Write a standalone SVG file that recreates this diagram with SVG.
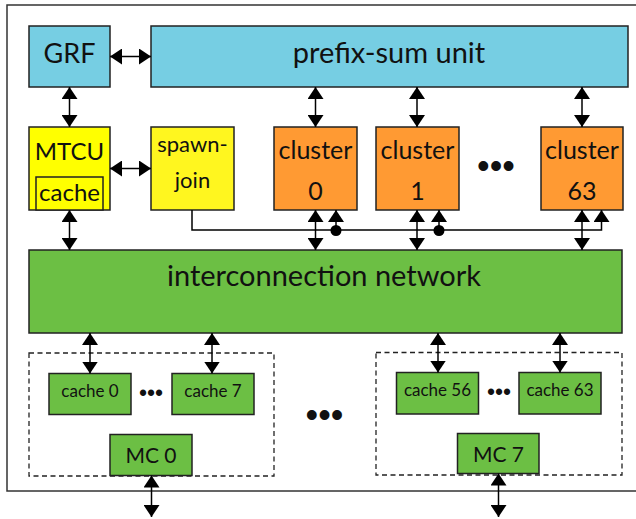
<svg xmlns="http://www.w3.org/2000/svg" width="636" height="519" viewBox="0 0 636 519">
<defs>
<marker id="ah" viewBox="0 0 12 16" markerWidth="12" markerHeight="16" refX="12" refY="8" markerUnits="userSpaceOnUse" orient="auto-start-reverse">
<path d="M0,0 L12,8 L0,16 z" fill="#000"/>
</marker>
<style>
.box{stroke:#222;stroke-width:1.5}
.blue{fill:#76CEE3}
.yel{fill:#FFFF00}
.yel2{fill:#FFF61F}
.org{fill:#FF9A33}
.grn{fill:#6CBF44}
.t{font-family:Lato,"Liberation Sans",sans-serif;fill:#111;text-anchor:middle}
.d{font-family:"Liberation Sans",sans-serif;fill:#111;text-anchor:middle}
.c{stroke:#000;stroke-width:1.5;fill:none}
.bi{marker-start:url(#ah);marker-end:url(#ah)}
.dash{fill:none;stroke:#222;stroke-width:1.3;stroke-dasharray:5,3.5}
</style>
</defs>
<rect x="7" y="5" width="640" height="486" fill="#fff" stroke="#333" stroke-width="1.5"/>

<g id="grf"><rect class="box blue" x="29" y="26" width="81" height="61"/><text class="t" x="69.5" y="63" font-size="27">GRF</text></g>
<g id="prefix"><rect class="box blue" x="151" y="26" width="477" height="61"/><text class="t" x="389" y="63" font-size="29">prefix-sum unit</text></g>
<g id="mtcu"><rect class="box yel" x="29" y="127" width="81" height="83"/><text class="t" x="69.5" y="160" font-size="24">MTCU</text>
<rect class="box yel" x="36" y="177" width="67" height="33"/><text class="t" x="69.5" y="201" font-size="24">cache</text></g>
<g id="spawnjoin"><rect class="box yel2" x="151" y="127" width="83" height="83"/><text class="t" x="192.5" y="152" font-size="22">spawn-</text><text class="t" x="192.5" y="188" font-size="22">join</text></g>
<g id="cluster0"><rect class="box org" x="274" y="127" width="83" height="83"/><text class="t" x="315.5" y="159" font-size="25">cluster</text><text class="t" x="315.5" y="200" font-size="25">0</text></g>
<g id="cluster1"><rect class="box org" x="376" y="127" width="83" height="83"/><text class="t" x="417.5" y="159" font-size="25">cluster</text><text class="t" x="417.5" y="200" font-size="25">1</text></g>
<g id="cluster63"><rect class="box org" x="541" y="127" width="82" height="83"/><text class="t" x="582" y="159" font-size="25">cluster</text><text class="t" x="582" y="200" font-size="25">63</text></g>
<text class="d" x="496" y="178" font-size="36">•••</text>
<g id="icn"><rect class="box grn" x="29" y="250" width="593" height="83"/><text class="t" x="324" y="286" font-size="29">interconnection network</text></g>

<rect class="dash" x="29" y="353" width="245" height="123"/>
<rect class="dash" x="376" y="352.5" width="246" height="122.5"/>
<g id="cache0"><rect class="box grn" x="49" y="373.5" width="82" height="41"/><text class="t" x="90" y="397" font-size="17">cache 0</text></g>
<g id="cache7"><rect class="box grn" x="172" y="373.5" width="82" height="41"/><text class="t" x="213" y="397" font-size="17">cache 7</text></g>
<g id="mc0"><rect class="box grn" x="110" y="434.5" width="82" height="41"/><text class="t" x="151" y="463" font-size="21">MC 0</text></g>
<g id="cache56"><rect class="box grn" x="396.5" y="372.5" width="82" height="41.5"/><text class="t" x="437.5" y="396" font-size="17">cache 56</text></g>
<g id="cache63"><rect class="box grn" x="519" y="372.5" width="82" height="41.5"/><text class="t" x="560" y="396" font-size="17">cache 63</text></g>
<g id="mc7"><rect class="box grn" x="457.5" y="433.5" width="81.5" height="40"/><text class="t" x="498.5" y="462" font-size="21">MC 7</text></g>
<text class="d" x="151" y="401" font-size="23">•••</text>
<text class="d" x="499" y="400" font-size="23">•••</text>
<text class="d" x="324.5" y="427" font-size="36">•••</text>

<g id="connectors">
<line class="c bi" x1="110" y1="56.5" x2="151" y2="56.5"/>
<line class="c bi" x1="69.5" y1="87" x2="69.5" y2="127"/>
<line class="c bi" x1="110" y1="168.5" x2="151" y2="168.5"/>
<line class="c bi" x1="69.5" y1="210" x2="69.5" y2="250"/>
<line class="c bi" x1="315.5" y1="87" x2="315.5" y2="127"/>
<line class="c bi" x1="417" y1="87" x2="417" y2="127"/>
<line class="c bi" x1="582" y1="87" x2="582" y2="127"/>
<line class="c bi" x1="315.5" y1="210" x2="315.5" y2="250"/>
<line class="c bi" x1="417" y1="210" x2="417" y2="250"/>
<line class="c bi" x1="582" y1="210" x2="582" y2="250"/>
<path class="c" d="M192,210 V230 H601.5 V210" marker-end="url(#ah)"/>
<line class="c" x1="336" y1="230" x2="336" y2="210" marker-end="url(#ah)"/>
<line class="c" x1="439" y1="230" x2="439" y2="210" marker-end="url(#ah)"/>
<circle cx="336" cy="230.5" r="5.5" fill="#000"/>
<circle cx="439" cy="230.5" r="5.5" fill="#000"/>
<line class="c bi" x1="90" y1="333" x2="90" y2="373.5"/>
<line class="c bi" x1="212" y1="333" x2="212" y2="373.5"/>
<line class="c bi" x1="438" y1="333" x2="438" y2="372.5"/>
<line class="c bi" x1="560" y1="333" x2="560" y2="372.5"/>
<line class="c bi" x1="151.5" y1="475.5" x2="151.5" y2="517"/>
<line class="c bi" x1="498.5" y1="473.5" x2="498.5" y2="517"/>
</g>
</svg>
